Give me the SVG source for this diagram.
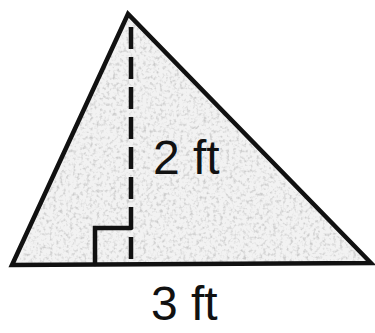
<svg xmlns="http://www.w3.org/2000/svg" width="375" height="333" viewBox="0 0 375 333">
<style>
.edge{fill:none;stroke:#111;stroke-width:4.5;stroke-linejoin:miter;stroke-linecap:round}
.lbl{font-family:"Liberation Sans",Arial,sans-serif;font-size:48px;fill:#111}
</style>
<defs>
<filter id="speckle" x="0" y="0" width="100%" height="100%">
<feTurbulence type="fractalNoise" baseFrequency="0.3" numOctaves="2" seed="4" result="n"/>
<feColorMatrix in="n" type="matrix" values="0 0 0 0 0.6  0 0 0 0 0.6  0 0 0 0 0.6  0 0 0 -3 1.55" result="s"/>
<feFlood flood-color="#f2f2f2" result="bg"/>
<feComposite in="s" in2="bg" operator="over"/>
</filter>
<clipPath id="tri"><polygon points="128,14 12,265 371,263"/></clipPath>
</defs>
<rect width="375" height="333" fill="#fff"/>
<g id="fill" clip-path="url(#tri)">
<rect x="0" y="0" width="375" height="270" filter="url(#speckle)"/>
</g>
<g id="triangle">
<polygon class="edge" points="128,14 12,265 371,263"/>
</g>
<g id="connectors">
<line x1="131" y1="27" x2="131" y2="264" stroke="#111" stroke-width="4.5" stroke-dasharray="22,8"/>
<polyline class="edge" points="95,264 95,228 131,228" stroke-linecap="butt"/>
</g>
<g id="labels">
<text class="lbl" x="153" y="174">2 ft</text>
<text class="lbl" x="151" y="320">3 ft</text>
</g>
</svg>
